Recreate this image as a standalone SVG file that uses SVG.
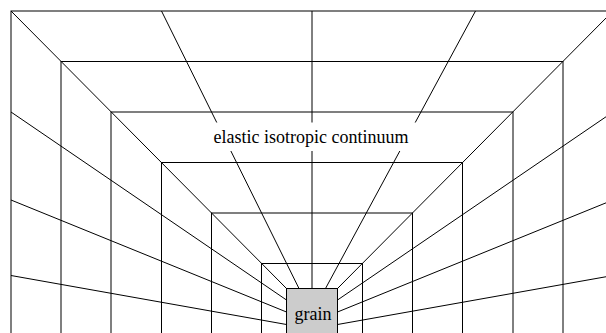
<svg xmlns="http://www.w3.org/2000/svg" width="606" height="333" viewBox="0 0 606 333">
  <style>
    .frame { fill: none; stroke: #000; stroke-width: 1; }
    .ray { stroke: #000; stroke-width: 1; fill: none; }
    .lbl { font-family: "Liberation Serif", "Times New Roman", serif; font-size: 18px; fill: #000; text-anchor: middle; }
  </style>
  <rect width="606" height="333" fill="#fff"/>
  <g id="frames">
    <rect class="frame" x="11" y="11" width="602" height="400"/>
    <rect class="frame" x="61" y="61.5" width="502" height="400"/>
    <rect class="frame" x="111" y="112" width="402" height="400"/>
    <rect class="frame" x="161.5" y="162.5" width="301" height="400"/>
    <rect class="frame" x="211.5" y="213" width="201" height="400"/>
    <rect class="frame" x="261.5" y="263.5" width="101" height="400"/>
  </g>
  <g id="connectors">
    <line class="ray" x1="11" y1="11" x2="286.5" y2="288.5"/>
    <line class="ray" x1="613" y1="11" x2="337.5" y2="288.5"/>
    <line class="ray" x1="312" y1="11" x2="312" y2="288.5"/>
    <line class="ray" x1="161.5" y1="11" x2="299" y2="288.5"/>
    <line class="ray" x1="475.5" y1="11" x2="325.5" y2="288.5"/>
    <line class="ray" x1="11" y1="112" x2="286.5" y2="300"/>
    <line class="ray" x1="11" y1="200" x2="286.5" y2="312"/>
    <line class="ray" x1="11" y1="275.5" x2="286.5" y2="324.5"/>
    <line class="ray" x1="613" y1="112" x2="337.5" y2="300"/>
    <line class="ray" x1="613" y1="200" x2="337.5" y2="312"/>
    <line class="ray" x1="613" y1="275.5" x2="337.5" y2="324.5"/>
  </g>
  <g id="continuum">
    <rect x="205" y="122.5" width="215" height="28.5" fill="#fff"/>
    <text class="lbl" x="311" y="143">elastic isotropic continuum</text>
  </g>
  <g id="grain">
    <rect x="286.5" y="288.5" width="51" height="60" fill="#ccc" stroke="#000" stroke-width="1"/>
    <text class="lbl" x="313" y="320">grain</text>
  </g>
</svg>
